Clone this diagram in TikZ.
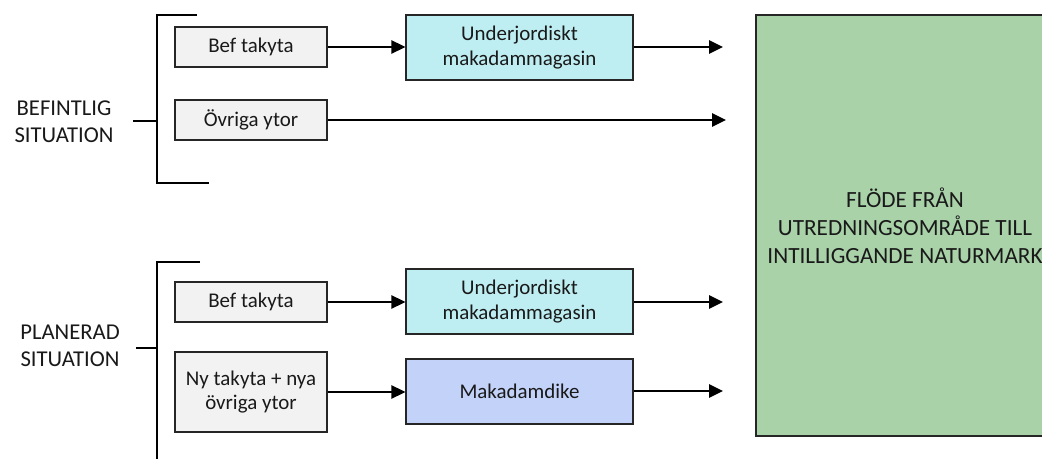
\documentclass[tikz,border=0pt]{standalone}
\usepackage{fontspec}
\setmainfont{Carlito}
\usetikzlibrary{arrows.meta}
\definecolor{boxgray}{HTML}{F2F2F2}
\definecolor{cyanbox}{HTML}{BFEEF2}
\definecolor{bluebox}{HTML}{C2D2F8}
\definecolor{greenbox}{HTML}{A9D2A9}
\definecolor{edge}{HTML}{262626}
\begin{document}
\begin{tikzpicture}[x=0.75pt,y=-0.75pt,
  basebox/.style={draw=edge, line width=0.9pt, text=black!90, align=center, inner sep=0pt,
    font=\fontsize{15.7}{18.5}\selectfont},
  srcbox/.style={basebox, fill=boxgray, minimum width=114pt},
  magbox/.style={basebox, fill=cyanbox, minimum width=170.25pt, minimum height=48.75pt},
  dikebox/.style={basebox, fill=bluebox, minimum width=170.25pt, minimum height=48.75pt},
  bigtext/.style={text=black!90, align=center, inner sep=0pt,
    font=\fontsize{17.4}{21}\selectfont},
  bigfill/.style={fill=greenbox},
  bigedge/.style={draw=edge, line width=1pt},
  sitlabel/.style={align=center, text=black!90, inner sep=0pt, font=\fontsize{17}{20.5}\selectfont},
  bracket/.style={draw=black, line width=1.6pt},
  flow/.style={draw=black, line width=1.2pt, -{Triangle[length=10.5pt,width=10pt]}}
]
\useasboundingbox (0,0) rectangle (1042,459);
\clip (0,0) rectangle (1042,459);

% big box (runs off the right edge)
\fill[bigfill] (756,15) rectangle (1100,436);
\draw[bigedge] (1100,15) -- (756,15) -- (756,436) -- (1100,436);
\node[bigtext] (green) at (905,225.5) {FLÖDE FRÅN\\UTREDNINGSOMRÅDE TILL\\INTILLIGGANDE NATURMARK};

% befintlig situation
\node[sitlabel] (lab1) at (64,122) {BEFINTLIG\\SITUATION};
\draw[bracket] (197,15) -- (157,15) -- (157,183) -- (209,183);
\coordinate (st1a) at (133,121);
\coordinate (st1b) at (157,121);
\draw[bracket] (st1a) -- (st1b);

\node[srcbox, minimum height=30pt] (bt1) at (251,47) {Bef takyta};
\node[srcbox, minimum height=30pt] (ov1) at (251,120) {Övriga ytor};
\node[magbox] (mag1) at (519.5,47.5) {Underjordiskt\\makadammagasin};
\coordinate (e1) at (723,47);
\coordinate (e2) at (726,120);
\draw[flow] (bt1.east) -- (bt1.east -| mag1.west);
\draw[flow] (mag1.east |- e1) -- (e1);
\draw[flow] (ov1.east) -- (e2);

% planerad situation
\node[sitlabel] (lab2) at (70,346) {PLANERAD\\SITUATION};
\draw[bracket] (200,262) -- (157,262) -- (157,470);
\coordinate (st2a) at (136,348);
\coordinate (st2b) at (157,348);
\draw[bracket] (st2a) -- (st2b);

\node[srcbox, minimum height=30pt] (bt2) at (251,302) {Bef takyta};
\node[srcbox, minimum height=60pt] (ny) at (251,392) {Ny takyta + nya\\övriga ytor};
\node[magbox] (mag2) at (519.5,301.5) {Underjordiskt\\makadammagasin};
\node[dikebox] (dike) at (519.5,391.5) {Makadamdike};
\coordinate (e3) at (723,302);
\coordinate (e4) at (723,391);
\draw[flow] (bt2.east) -- (bt2.east -| mag2.west);
\draw[flow] (ny.east) -- (ny.east -| dike.west);
\draw[flow] (mag2.east |- e3) -- (e3);
\draw[flow] (dike.east |- e4) -- (e4);
\end{tikzpicture}
\end{document}
